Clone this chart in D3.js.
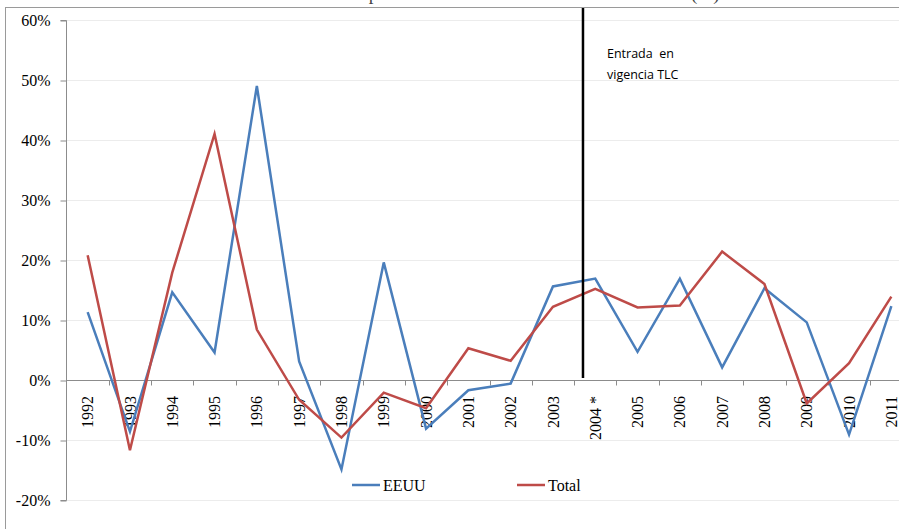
<!DOCTYPE html>
<html lang="es">
<head>
    <meta charset="UTF-8">
    <title>Tasa de variación</title>
    <script src="https://cdn.jsdelivr.net/npm/d3@7"></script>
    <style>
        body { margin: 0; background: #fff; overflow: hidden; }
        svg { display: block; }
    </style>
</head>
<body>
<script type="text/javascript">
    var width = 899;
    var height = 529;

    // datos
    var years = ["1992", "1993", "1994", "1995", "1996", "1997", "1998", "1999", "2000", "2001",
        "2002", "2003", "2004 *", "2005", "2006", "2007", "2008", "2009", "2010", "2011"];
    var eeuu = [11.3, -8.6, 14.6, 4.6, 49.0, 3.1, -14.9, 19.6, -8.1, -1.7,
        -0.6, 15.6, 16.9, 4.7, 16.9, 2.1, 15.3, 9.6, -9.1, 12.3];
    var total = [20.8, -11.7, 17.9, 41.0, 8.4, -3.3, -9.6, -2.1, -4.7, 5.3,
        3.2, 12.2, 15.2, 12.1, 12.4, 21.4, 16.0, -3.9, 2.8, 13.9];
    var yTicks = [-20, -10, 0, 10, 20, 30, 40, 50, 60];
    var seriesNames = ["EEUU", "Total"];
    var colors = ["#4a7ebb", "#be4b48"];

    var serif = "'Liberation Serif', 'Times New Roman', serif";

    var svg = d3.select("body").append("svg")
            .attr("width", width)
            .attr("height", height);

    // titulo (cortado arriba en el original)
    svg.append("text")
            .attr("x", 4)
            .attr("y", 0)
            .attr("font-family", serif)
            .attr("font-size", "19px")
            .attr("fill", "#444")
            .text("Gráfico N° 4. Tasa de variación Anual de las Exportaciones de la Industria Manufacturera (%)");

    // marco
    svg.append("rect")
            .attr("x", 5.5)
            .attr("y", 7.5)
            .attr("width", 1000)
            .attr("height", 600)
            .attr("fill", "none")
            .attr("stroke", "#9a9a9a")
            .attr("stroke-width", 1);

    var plotLeft = 66.5;
    var bw = 42.3;
    var xScale = d3.scaleBand()
            .domain(years)
            .range([plotLeft, plotLeft + bw * years.length])
            .padding(0);
    var yScale = d3.scaleLinear()
            .domain([-20, 60])
            .range([500, 20]);

    function cx(d) {
        return xScale(d) + xScale.bandwidth() / 2;
    }

    // rejilla
    svg.append("g").selectAll("line")
            .data(yTicks)
            .enter()
            .append("line")
            .attr("x1", plotLeft)
            .attr("x2", width)
            .attr("y1", function (d) { return yScale(d) + 0.5; })
            .attr("y2", function (d) { return yScale(d) + 0.5; })
            .attr("stroke", "#ececec")
            .attr("stroke-width", 1);

    // eje y
    var yAxis = d3.axisLeft(yScale)
            .tickValues(yTicks)
            .tickSize(6)
            .tickPadding(10)
            .tickFormat(function (d) { return d + "%"; });
    var gy = svg.append("g")
            .attr("transform", "translate(66.5,0.5)")
            .call(yAxis)
            .attr("font-family", serif)
            .attr("font-size", "16px");
    gy.select(".domain").attr("stroke", "#8c8c8c").attr("d", "M-6,20H0V500H-6");
    gy.selectAll(".tick line").attr("stroke", "#8c8c8c");
    gy.selectAll(".tick text")
            .style("font-family", serif)
            .style("font-size", "16px")
            .attr("fill", "#000");

    // eje x en 0%
    var y0 = yScale(0) + 0.5;
    svg.append("line")
            .attr("x1", plotLeft)
            .attr("x2", width)
            .attr("y1", y0)
            .attr("y2", y0)
            .attr("stroke", "#8c8c8c");
    svg.append("g").selectAll("line")
            .data(years)
            .enter()
            .append("line")
            .attr("x1", function (d) { return Math.round(xScale(d) + xScale.bandwidth()) + 0.5; })
            .attr("x2", function (d) { return Math.round(xScale(d) + xScale.bandwidth()) + 0.5; })
            .attr("y1", y0)
            .attr("y2", y0 + 5)
            .attr("stroke", "#8c8c8c");

    svg.append("g").selectAll("text")
            .data(years)
            .enter()
            .append("text")
            .attr("transform", function (d) {
                return "translate(" + cx(d) + ",396) rotate(-90)";
            })
            .attr("text-anchor", "end")
            .attr("dy", "0.35em")
            .attr("font-family", serif)
            .attr("font-size", "16px")
            .text(function (d) { return d; });

    // lineas
    var line = d3.line()
            .x(function (d, i) { return cx(years[i]); })
            .y(function (d) { return yScale(d); });

    [eeuu, total].forEach(function (s, k) {
        svg.append("path")
                .datum(s)
                .attr("fill", "none")
                .attr("stroke", colors[k])
                .attr("stroke-width", 2.5)
                .attr("stroke-linejoin", "miter")
                .attr("d", line);
    });

    // linea TLC
    var tlcX = xScale(years[12]) + bw * 0.21;
    svg.append("line")
            .attr("x1", tlcX)
            .attr("x2", tlcX)
            .attr("y1", 8)
            .attr("y2", 378)
            .attr("stroke", "#000")
            .attr("stroke-width", 2.5);

    var note = svg.append("text")
            .attr("font-family", "'Open Sans', 'Noto Sans', sans-serif")
            .attr("font-size", "12.5px")
            .attr("fill", "#000");
    note.append("tspan").attr("x", 607).attr("y", 58).attr("xml:space", "preserve").text("Entrada  en");
    note.append("tspan").attr("x", 607).attr("y", 79).text("vigencia TLC");

    // leyenda
    var legendX = [352, 517];
    var legend = svg.append("g").selectAll("g")
            .data(seriesNames)
            .enter()
            .append("g")
            .attr("transform", function (d, i) { return "translate(" + legendX[i] + ",485)"; });
    legend.append("line")
            .attr("x1", 0)
            .attr("x2", 28)
            .attr("stroke", function (d, i) { return colors[i]; })
            .attr("stroke-width", 2.5);
    legend.append("text")
            .attr("x", 31)
            .attr("dy", "0.35em")
            .attr("font-family", serif)
            .attr("font-size", "16px")
            .text(function (d) { return d; });
</script>
</body>
</html>
